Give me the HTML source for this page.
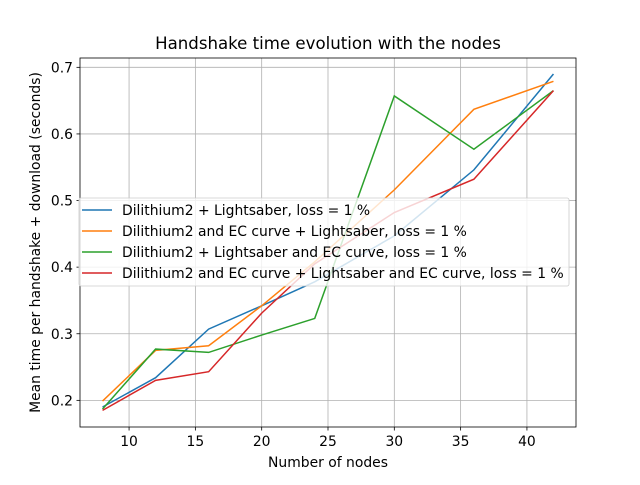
<!DOCTYPE html>
<html><head><meta charset="utf-8"><style>body{margin:0;background:#fff}svg{font-family:"DejaVu Sans","Liberation Sans",sans-serif}</style></head>
<body>
<svg id="c" width="640" height="480"></svg>
<script>
const xs=[8,12,16,20,24,30,36,42];
const blue=[0.190,0.234,0.307,0.342,0.378,0.447,0.546,0.690];
const orange=[0.199,0.275,0.282,0.342,0.408,0.516,0.637,0.679];
const green=[0.187,0.277,0.272,0.298,0.323,0.657,0.577,0.665];
const red=[0.185,0.230,0.243,0.331,0.405,0.482,0.532,0.665];
const xTicks=[10,15,20,25,30,35,40];
const yTicks=[0.2,0.3,0.4,0.5,0.6,0.7];
const labels=["Dilithium2 + Lightsaber, loss = 1 %","Dilithium2 and EC curve + Lightsaber, loss = 1 %","Dilithium2 + Lightsaber and EC curve, loss = 1 %","Dilithium2 and EC curve + Lightsaber and EC curve, loss = 1 %"];
const L=80,R=576,T=58,B=427,x0=6.3,x1=43.7,y0=0.16,y1=0.714;
const X=v=>L+(v-x0)/(x1-x0)*(R-L), Y=v=>B-(v-y0)/(y1-y0)*(B-T);
const svg=document.getElementById('c');const NS='http://www.w3.org/2000/svg';
function mk(t,a,p){const e=document.createElementNS(NS,t);for(const k in a)e.setAttribute(k,a[k]);(p||svg).appendChild(e);return e;}
xTicks.forEach(v=>{const x=X(v);
const g=mk('line',{x1:x,x2:x,y1:T,y2:B,stroke:'#b0b0b0','stroke-width':0.8});

mk('line',{x1:x,x2:x,y1:B,y2:B+3.5,stroke:'#000','stroke-width':0.8});
const t=mk('text',{x:x,y:B+19,'text-anchor':'middle','font-size':13.9});t.textContent=v;
});
yTicks.forEach(v=>{const y=Y(v);
const g=mk('line',{x1:L,x2:R,y1:y,y2:y,stroke:'#b0b0b0','stroke-width':0.8});

mk('line',{x1:L-3.5,x2:L,y1:y,y2:y,stroke:'#000','stroke-width':0.8});
const t=mk('text',{x:L-7,y:y+5,'text-anchor':'end','font-size':13.9});t.textContent=v.toFixed(1);
});
const cols=['#1f77b4','#ff7f0e','#2ca02c','#d62728'];
[blue,orange,green,red].forEach((s,i)=>{
const p=mk('polyline',{points:xs.map((x,j)=>X(x)+','+Y(s[j])).join(' '),fill:'none',stroke:cols[i],'stroke-width':1.5});
});
mk('rect',{x:L,y:T,width:R-L,height:B-T,fill:'none',stroke:'#000','stroke-width':0.8});
const lg=mk('g',{});
mk('rect',{x:79,y:198,width:490,height:88,rx:2,fill:'#fff','fill-opacity':0.8,stroke:'#ccc','stroke-width':0.8},lg);
labels.forEach((s,i)=>{const y=210+i*21;
mk('line',{x1:82,x2:112,y1:y,y2:y,stroke:cols[i],'stroke-width':1.5},lg);
const t=mk('text',{x:122,y:y+5,'font-size':13.9},lg);t.textContent=s;
});
const tt=mk('text',{x:(L+R)/2,y:49,'text-anchor':'middle','font-size':16.6});tt.textContent='Handshake time evolution with the nodes';

const xl=mk('text',{x:(L+R)/2,y:467,'text-anchor':'middle','font-size':13.9});xl.textContent='Number of nodes';

const yl=mk('text',{x:0,y:0,'text-anchor':'middle','font-size':13.9,transform:'translate(40,'+((T+B)/2)+') rotate(-90)'});yl.textContent='Mean time per handshake + download (seconds)';

</script>
</body></html>
